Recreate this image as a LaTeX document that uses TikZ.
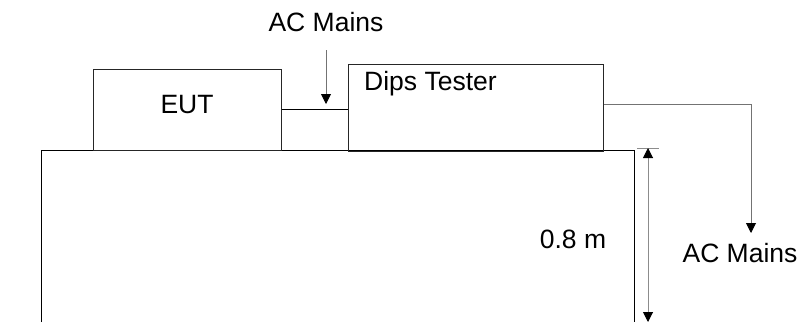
\documentclass[tikz,border=0pt]{standalone}
\usepackage{fontspec}
\setmainfont{Liberation Sans}
\usetikzlibrary{arrows.meta}
\begin{document}
\begin{tikzpicture}[x=1pt,y=-1pt,
  lbl/.style={font=\fontsize{26.5}{30}\selectfont, inner sep=0pt},
  box/.style={draw=black!85, line width=1pt, rectangle, inner sep=0pt},
  wire/.style={draw=black, line width=0.9pt},
  feed/.style={draw=black!55, line width=0.9pt, -{Triangle[width=10pt,length=10pt,color=black]}},
  dim/.style={draw=black!45, line width=1pt, {Triangle[width=10pt,length=10pt,color=black]}-{Triangle[width=10pt,length=10pt,color=black]}}
]
\useasboundingbox (0,0) rectangle (800,322);
% table
\draw[wire] (41,322) -- (41,150) -- (634,150) -- (634,322);
% boxes
\node[box, minimum width=188pt, minimum height=81pt] (eut) at (187,109.5) {};
\node[lbl] (eutt) at (187,105) {EUT};
\node[box, minimum width=255pt, minimum height=87pt] (dips) at (475.5,107.5) {};
\node[lbl, anchor=north west] (dipst) at (364,71) {Dips Tester};
% link EUT - Dips
\draw[wire] (eut.east |- 0,109) -- (dips.west |- 0,109);
% top AC mains
\node[lbl] (acm1) at (326,22) {AC Mains};
\coordinate (a1s) at (326,50);
\coordinate (a1e) at (326,104);
\draw[feed] (a1s) -- (a1e);
% output AC mains
\coordinate (o1) at (dips.east |- 0,104);
\node[lbl] (acm2) at (740,253) {AC Mains};
\coordinate (o2) at (751,233);
\draw[feed] (o1) -| (o2);
% dimension
\coordinate (t1) at (637,148);
\coordinate (t2) at (659,148);
\draw[draw=black!45, line width=1pt] (t1) -- (t2);
\coordinate (d1) at (648,148);
\coordinate (d2) at (648,322);
\draw[dim] (d1) -- (d2);
\node[lbl] (h) at (573,239) {0.8 m};
\end{tikzpicture}
\end{document}
